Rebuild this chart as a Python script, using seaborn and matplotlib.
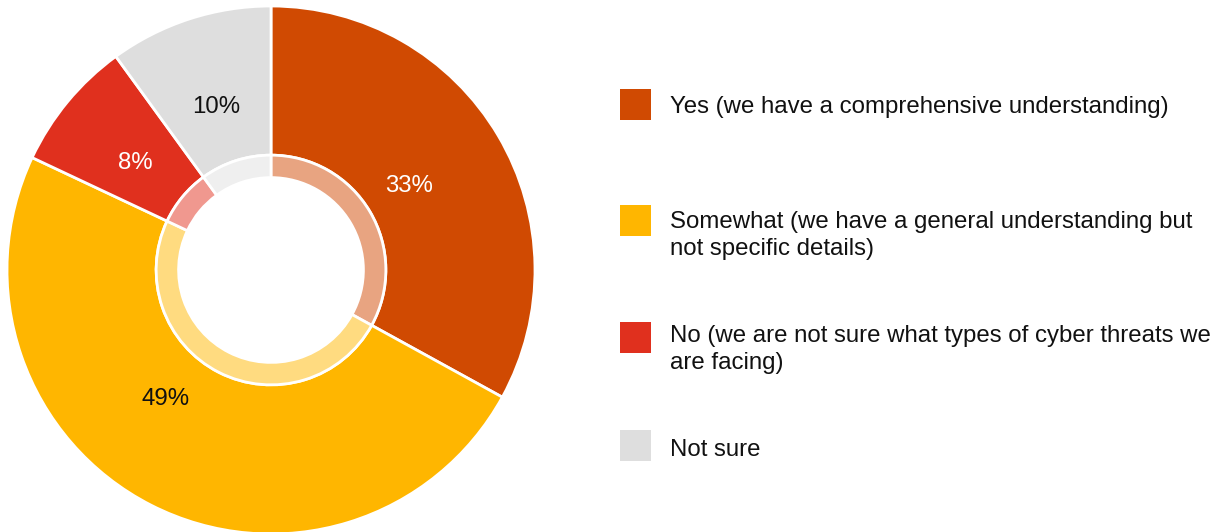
import matplotlib
matplotlib.use("Agg")
import matplotlib.pyplot as plt
import matplotlib.colors as mcolors
from matplotlib.patches import Rectangle
import seaborn as sns

sns.set_theme(style="white")
plt.rcParams["font.family"] = ["Liberation Sans", "DejaVu Sans"]

categories = [
    "Yes (we have a comprehensive understanding)",
    "Somewhat (we have a general understanding but\nnot specific details)",
    "No (we are not sure what types of cyber threats we\nare facing)",
    "Not sure",
]
shares = [33, 49, 8, 10]
colors = ["#D04A02", "#FFB600", "#E0301E", "#DEDEDE"]
label_colors = ["white", "#111111", "white", "#111111"]
# label anchor points inside each wedge (in units of the outer radius)
label_xy = [(0.523, 0.318), (-0.400, -0.488), (-0.515, 0.405), (-0.208, 0.617)]

W, H = 1222, 532
fig = plt.figure(figsize=(W / 100, H / 100), dpi=100)

# Donut axes: centre at (271, 270) px, outer radius 264 px
cx, cy, R = 271, 270, 264
ax = fig.add_axes([(cx - R) / W, (H - cy - R) / H, 2 * R / W, 2 * R / H])

def lighten(c, amt=0.5):
    r, g, b = mcolors.to_rgb(c)
    return (r + (1 - r) * amt, g + (1 - g) * amt, b + (1 - b) * amt)

ring_outer = 0.435
hole = 0.35
FS = 17.3

wedges, _, autotexts = ax.pie(
    shares, colors=colors, startangle=90, counterclock=False, radius=1.0,
    autopct="%d%%", pctdistance=0.64,
    wedgeprops=dict(width=1.0 - ring_outer, edgecolor="white", linewidth=2),
    textprops=dict(fontsize=FS),
)
for t, c, xy in zip(autotexts, label_colors, label_xy):
    t.set_color(c)
    t.set_position(xy)

ax.pie(
    shares, colors=[lighten(c) for c in colors], startangle=90, counterclock=False,
    radius=ring_outer,
    wedgeprops=dict(width=ring_outer - hole, edgecolor="white", linewidth=2),
)
ax.set_xlim(-1, 1)
ax.set_ylim(-1, 1)
ax.set_aspect("equal")
ax.axis("off")

# Legend: colour squares and labels placed in pixel units
sq = 31
line_px = 28
square_tops = [89, 205, 322, 430]
baselines = [112.5, 227, 341, 455.5]  # baseline of each label's first line
for top, base, col, lab in zip(square_tops, baselines, colors, categories):
    fig.patches.append(Rectangle((620 / W, (H - top - sq) / H), sq / W, sq / H,
                                 transform=fig.transFigure, facecolor=col,
                                 edgecolor="none"))
    n_lines = lab.count("\n") + 1
    last_base = base + line_px * (n_lines - 1)
    fig.text(670 / W, (H - last_base) / H, lab, fontsize=FS, color="#111111",
             va="baseline", ha="left", linespacing=1.27)

fig.savefig("out.png", dpi=100, facecolor="white")
